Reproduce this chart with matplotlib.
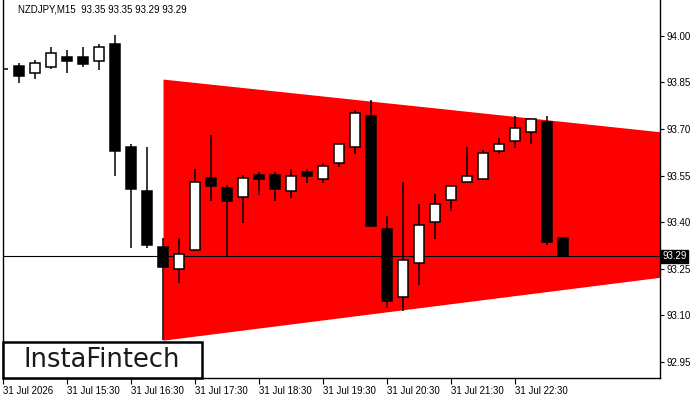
import numpy as np
import matplotlib
matplotlib.use("Agg")
import matplotlib.pyplot as plt
from matplotlib.patches import Rectangle

# ── data ───────────────────────────────────────────────────────
opens  = [93.894, 93.903, 93.882, 93.901, 93.931, 93.931, 93.920, 93.974, 93.641, 93.499,
          93.318, 93.247, 93.309, 93.541, 93.510, 93.480, 93.551, 93.551, 93.499, 93.560,
          93.540, 93.589, 93.641, 93.742, 93.376, 93.157, 93.267, 93.399, 93.470, 93.528,
          93.540, 93.630, 93.660, 93.689, 93.723, 93.350]
highs  = [93.932, 93.912, 93.923, 93.963, 93.955, 93.963, 93.974, 94.003, 93.652, 93.641,
          93.348, 93.348, 93.571, 93.681, 93.518, 93.552, 93.561, 93.561, 93.571, 93.571,
          93.590, 93.651, 93.761, 93.794, 93.419, 93.529, 93.458, 93.490, 93.517, 93.641,
          93.632, 93.671, 93.742, 93.731, 93.742, 93.350]
lows   = [93.865, 93.849, 93.862, 93.892, 93.882, 93.901, 93.890, 93.549, 93.317, 93.317,
          93.019, 93.204, 93.309, 93.468, 93.286, 93.398, 93.488, 93.469, 93.479, 93.527,
          93.527, 93.578, 93.620, 93.388, 93.124, 93.114, 93.197, 93.346, 93.437, 93.528,
          93.540, 93.619, 93.640, 93.651, 93.326, 93.290]
closes = [93.894, 93.872, 93.912, 93.944, 93.920, 93.911, 93.963, 93.630, 93.507, 93.327,
          93.256, 93.296, 93.528, 93.517, 93.469, 93.541, 93.540, 93.507, 93.549, 93.549,
          93.580, 93.651, 93.751, 93.388, 93.146, 93.276, 93.389, 93.457, 93.517, 93.549,
          93.622, 93.651, 93.702, 93.731, 93.336, 93.290]

# triangle pattern (candle index, upper / lower bound)
pattern_x      = [10, 42]
pattern_top    = [93.861, 93.686]
pattern_bottom = [93.019, 93.228]

last_price = 93.29
y_ticks    = [94.00, 93.85, 93.70, 93.55, 93.40, 93.25, 93.10, 92.95]
x_tick_idx = [0, 4, 8, 12, 16, 20, 24, 28, 32]
x_labels   = ["31 Jul 2026", "31 Jul 15:30", "31 Jul 16:30", "31 Jul 17:30", "31 Jul 18:30",
              "31 Jul 19:30", "31 Jul 20:30", "31 Jul 21:30", "31 Jul 22:30"]
title = "NZDJPY,M15  93.35 93.35 93.29 93.29"

# ── figure ─────────────────────────────────────────────────────
plt.rcParams["font.family"] = ["Liberation Sans", "DejaVu Sans"]
fig = plt.figure(figsize=(7, 4), dpi=100)
ax = fig.add_axes([2.7/700, 22/400, (660-2.7)/700, 378/400])

# pattern
px = np.array(pattern_x)
ax.fill_between(px, pattern_bottom, pattern_top, color="#FF0000", lw=0, zorder=1)

# last price line
ax.axhline(last_price, color="black", lw=0.8, zorder=2)

# candles
o, h, l, c = map(np.array, (opens, highs, lows, closes))
idx = np.arange(len(o))
ax.vlines(idx, l, h, color="black", lw=1.1, zorder=3)
up = c >= o
ax.bar(idx, np.abs(c - o), bottom=np.minimum(o, c), width=0.62,
       color=np.where(up, "white", "black"), edgecolor="black", lw=1.1, zorder=4)

ax.set_xlim(-0.02, 41.06)
ax.set_ylim(92.897, 94.116)

# axes styling
ax.spines["top"].set_visible(False)
for sp in ("left", "right", "bottom"):
    ax.spines[sp].set_color("black"); ax.spines[sp].set_linewidth(1.0)
ax.yaxis.tick_right()
ax.set_yticks(y_ticks)
ax.set_yticklabels([f"{v:.2f}" for v in y_ticks])
ax.tick_params(axis="y", length=3, width=0.8, pad=2, labelsize=7, colors="black")
ax.set_xticks(x_tick_idx)
ax.set_xticklabels(x_labels)
ax.tick_params(axis="x", length=4, width=0.8, pad=1.5, labelsize=7, colors="black")
for lab in ax.get_xticklabels():
    lab.set_horizontalalignment("left")

# price tag
ax.text(1.004, last_price, f"{last_price:.2f}", transform=ax.get_yaxis_transform(),
        ha="left", va="center", fontsize=7, color="white", zorder=6,
        bbox=dict(boxstyle="square,pad=0.15", facecolor="black", edgecolor="black"))

# title
fig.text(18/700, 1 - 10/400, title, ha="left", va="center", fontsize=7, color="black")

# logo
fig.patches.append(Rectangle((2.7/700, 22/400), 199/700, 36/400, transform=fig.transFigure,
                             facecolor="white", edgecolor="black", lw=1.8, zorder=10))
fig.text(102/700, 1 - 360/400, "InstaFintech", ha="center", va="center",
         fontsize=18.5, family="DejaVu Sans", color="#1a1a1a", zorder=11)

plt.savefig("out.png", dpi=100)
plt.close()
